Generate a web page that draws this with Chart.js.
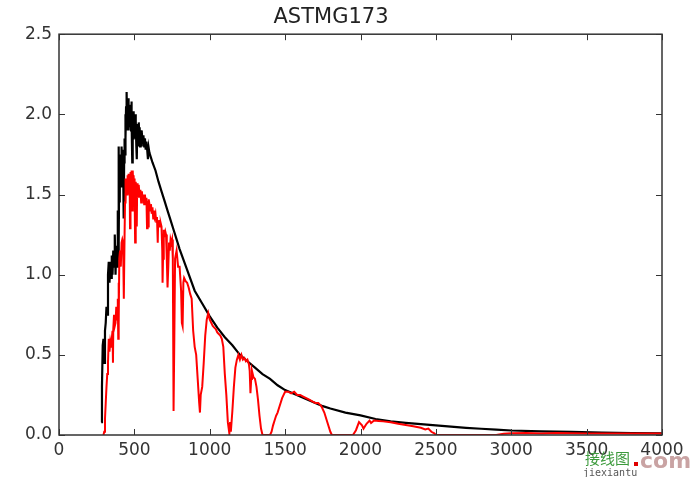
<!DOCTYPE html>
<html>
<head>
<meta charset="utf-8">
<script src="https://cdn.jsdelivr.net/npm/chart.js@4/dist/chart.umd.min.js"></script>
<style>
  html, body { margin: 0; padding: 0; background: #fff; }
  #wrap { width: 700px; height: 477px; position: relative; }
</style>
</head>
<body>
<div id="wrap"><canvas id="c"></canvas></div>
<script>
var chartTitle = 'ASTMG173';
var xTicks = [0, 500, 1000, 1500, 2000, 2500, 3000, 3500, 4000];
var yTicks = [0.0, 0.5, 1.0, 1.5, 2.0, 2.5];

// extraterrestrial spectrum (black)
var etrWl = [280,285,290,295,300,305,310,315,320,325,330,335,340,345,350,355,360,365,370,375,380,385,390,393,395,397,400,403,405,408,410,413,415,418,420,423,425,428,430,432,435,438,440,442,445,447,450,452,455,458,460,463,465,468,470,473,475,478,480,483,486,488,490,493,495,498,500,503,505,508,510,513,516,518,520,523,525,528,530,533,535,538,540,543,545,548,550,555,560,565,570,575,580,585,590,595,600,610,620,640,660,680,700,720,740,760,780,800,850,900,950,1000,1050,1100,1150,1200,1250,1300,1350,1400,1450,1500,1550,1600,1650,1700,1750,1800,1900,2000,2100,2200,2300,2400,2500,2600,2700,2800,2900,3000,3200,3400,3600,3800,4000];
var etrVal = [0.08,0.3,0.56,0.6,0.45,0.65,0.7,0.8,0.75,1.0,1.08,0.95,1.08,0.98,1.12,1.0,1.15,1.05,1.25,1.0,1.18,1.05,1.4,1.1,1.8,1.2,1.7,1.45,1.75,1.6,1.72,1.55,1.8,1.7,1.78,1.65,1.72,1.55,1.35,1.7,1.85,1.75,2.0,1.85,2.05,1.9,2.14,1.95,2.08,1.95,2.1,1.9,2.05,1.92,2.06,1.95,2.04,1.9,2.08,1.95,1.7,1.9,2.0,1.85,2.02,1.9,1.98,1.85,2.0,1.88,1.96,1.8,1.72,1.85,1.94,1.82,1.92,1.8,1.95,1.85,1.92,1.8,1.9,1.82,1.9,1.8,1.89,1.82,1.87,1.8,1.85,1.78,1.83,1.78,1.72,1.79,1.76,1.73,1.70,1.65,1.58,1.52,1.46,1.40,1.34,1.28,1.22,1.16,1.03,0.9,0.82,0.74,0.67,0.61,0.56,0.50,0.46,0.42,0.38,0.35,0.31,0.28,0.26,0.24,0.22,0.20,0.18,0.165,0.14,0.122,0.10,0.085,0.076,0.068,0.06,0.052,0.045,0.039,0.034,0.028,0.023,0.019,0.015,0.012,0.01];

// terrestrial spectrum (red)
var terWl = [295,300,305,310,315,320,325,330,335,340,345,350,355,358,360,365,370,375,380,385,390,393,395,397,400,405,410,415,420,425,430,435,438,440,443,445,448,450,453,455,458,460,463,466,469,471,473,476,478,480,483,486,488,490,493,495,498,500,503,505,508,510,513,516,518,520,523,525,528,530,535,540,545,550,555,560,565,570,575,580,584,588,592,595,600,605,610,615,620,625,630,635,640,645,650,655,658,662,666,670,675,680,685,687,690,695,700,705,710,715,720,725,730,735,740,745,750,755,760,765,770,780,790,800,810,815,820,825,830,840,850,860,870,880,890,900,910,920,930,935,940,950,960,970,980,990,1000,1010,1020,1030,1040,1050,1060,1070,1080,1090,1100,1110,1120,1130,1135,1140,1150,1160,1170,1180,1190,1200,1210,1220,1230,1240,1250,1260,1265,1270,1275,1280,1290,1300,1310,1320,1330,1340,1350,1400,1410,1420,1430,1440,1450,1460,1470,1480,1490,1500,1520,1540,1560,1580,1600,1620,1640,1660,1680,1700,1720,1740,1760,1780,1800,1810,1950,1970,1990,2010,2020,2040,2060,2070,2090,2120,2150,2200,2250,2300,2350,2400,2430,2450,2470,2490,2500,2900,2950,3000,3100,3200,3300,3400,3500,3700,4000];
var terVal = [0,0.02,0.1,0.2,0.3,0.38,0.45,0.6,0.52,0.58,0.55,0.6,0.65,0.45,0.66,0.75,0.68,0.7,0.8,0.72,0.85,0.6,0.95,0.7,1.1,1.15,1.05,1.2,1.22,1.2,0.85,1.25,1.45,1.6,1.45,1.58,1.5,1.6,1.5,1.62,1.55,1.63,1.5,1.62,1.55,1.29,1.6,1.64,1.55,1.65,1.58,1.4,1.6,1.65,1.55,1.62,1.5,1.6,1.5,1.2,1.55,1.58,1.45,1.3,1.5,1.57,1.48,1.55,1.5,1.56,1.48,1.53,1.45,1.52,1.46,1.5,1.44,1.5,1.44,1.48,1.29,1.46,1.3,1.47,1.44,1.4,1.44,1.38,1.42,1.35,1.4,1.36,1.38,1.33,1.36,1.2,1.34,1.3,1.34,1.3,1.32,1.3,1.15,0.95,1.1,1.28,1.25,1.27,1.25,1.1,0.92,1.05,1.2,1.15,1.22,1.2,1.22,1.1,0.15,0.6,1.1,1.15,1.05,1.05,0.9,0.7,0.68,0.95,0.98,0.96,0.95,0.92,0.88,0.85,0.65,0.55,0.5,0.35,0.2,0.14,0.25,0.3,0.45,0.62,0.72,0.76,0.72,0.70,0.68,0.67,0.66,0.64,0.63,0.62,0.6,0.55,0.38,0.25,0.08,0.01,0.08,0.02,0.15,0.3,0.42,0.47,0.5,0.47,0.5,0.47,0.48,0.46,0.47,0.44,0.4,0.26,0.35,0.4,0.36,0.35,0.3,0.22,0.12,0.04,0,0,0.02,0.06,0.09,0.12,0.14,0.17,0.2,0.23,0.25,0.27,0.27,0.26,0.27,0.25,0.25,0.24,0.23,0.22,0.21,0.2,0.2,0.18,0.14,0.08,0.02,0,0,0.03,0.08,0.06,0.04,0.07,0.09,0.075,0.09,0.088,0.085,0.08,0.07,0.062,0.055,0.045,0.035,0.04,0.02,0.01,0,0,0.008,0.011,0.013,0.01,0.013,0.011,0.01,0.01,0.009];

function pairs(xs, ys) {
  return xs.map(function(x, i) { return {x: x, y: ys[i]}; });
}

var tc = '#333';
var fnt = 'DejaVu Sans';

// matplotlib style box with inward ticks on every side
var framePlugin = {
  id: 'frame',
  afterDatasetsDraw: function(chart) {
    var ctx = chart.ctx, a = chart.chartArea, sx = chart.scales.x, sy = chart.scales.y;
    ctx.save();
    ctx.strokeStyle = tc;
    ctx.lineWidth = 1.5;
    ctx.strokeRect(a.left, a.top, a.right - a.left, a.bottom - a.top);
    ctx.beginPath();
    xTicks.forEach(function(v) {
      var px = Math.round(sx.getPixelForValue(v)) + 0.5;
      ctx.moveTo(px, a.bottom); ctx.lineTo(px, a.bottom - 6);
      ctx.moveTo(px, a.top); ctx.lineTo(px, a.top + 6);
    });
    yTicks.forEach(function(v) {
      var py = Math.round(sy.getPixelForValue(v)) + 0.5;
      ctx.moveTo(a.left, py); ctx.lineTo(a.left + 6, py);
      ctx.moveTo(a.right, py); ctx.lineTo(a.right - 6, py);
    });
    ctx.lineWidth = 1;
    ctx.stroke();
    ctx.restore();
  }
};

var markPlugin = {
  id: 'mark',
  afterDraw: function(chart) {
    var ctx = chart.ctx;
    ctx.save();
    ctx.textBaseline = 'alphabetic';
    ctx.fillStyle = '#3c9a3c';
    ctx.font = '15px "Noto Sans CJK SC"';
    ctx.fillText('接线图', 585, 464);
    ctx.fillStyle = '#e00000';
    ctx.fillRect(634, 462, 4, 4);
    ctx.fillStyle = '#c9a3a3';
    ctx.font = 'bold 22px "DejaVu Sans"';
    ctx.fillText('com', 640, 468);
    ctx.fillStyle = '#555';
    ctx.font = '10px "DejaVu Sans Mono"';
    ctx.fillText('jiexiantu', 583, 476);
    ctx.restore();
  }
};

new Chart(document.getElementById('c'), {
  type: 'line',
  data: {
    datasets: [
      {label: 'global', data: pairs(terWl, terVal), borderColor: '#ff0000', borderWidth: 2, pointRadius: 0, tension: 0, fill: false},
      {label: 'etr', data: pairs(etrWl, etrVal), borderColor: '#000000', borderWidth: 2.2, pointRadius: 0, tension: 0, fill: false}
    ]
  },
  options: {
    responsive: true,
    maintainAspectRatio: false,
    animation: false,
    layout: {padding: {left: 0, right: 38, top: 0, bottom: 0}},
    plugins: {
      legend: {display: false},
      tooltip: {enabled: false},
      title: {display: true, text: chartTitle, color: '#222', font: {family: fnt, size: 21, weight: 'normal'}, padding: {top: 5, bottom: 4}}
    },
    scales: {
      x: {
        type: 'linear', min: 0, max: 4000,
        grid: {display: false, drawTicks: false},
        border: {display: false},
        afterBuildTicks: function(s) { s.ticks = xTicks.map(function(v) { return {value: v}; }); },
        afterFit: function(s) { s.height = 42; },
        ticks: {color: tc, padding: 5, maxRotation: 0, autoSkip: false, font: {family: fnt, size: 17}, callback: function(v) { return String(v); }}
      },
      y: {
        min: 0, max: 2.5,
        grid: {display: false, drawTicks: false},
        border: {display: false},
        afterBuildTicks: function(s) { s.ticks = yTicks.map(function(v) { return {value: v}; }); },
        afterFit: function(s) { s.width = 59; },
        ticks: {color: tc, padding: 7, autoSkip: false, font: {family: fnt, size: 17}, callback: function(v) { return Number(v).toFixed(1); }}
      }
    }
  },
  plugins: [framePlugin, markPlugin]
});
</script>
</body>
</html>
